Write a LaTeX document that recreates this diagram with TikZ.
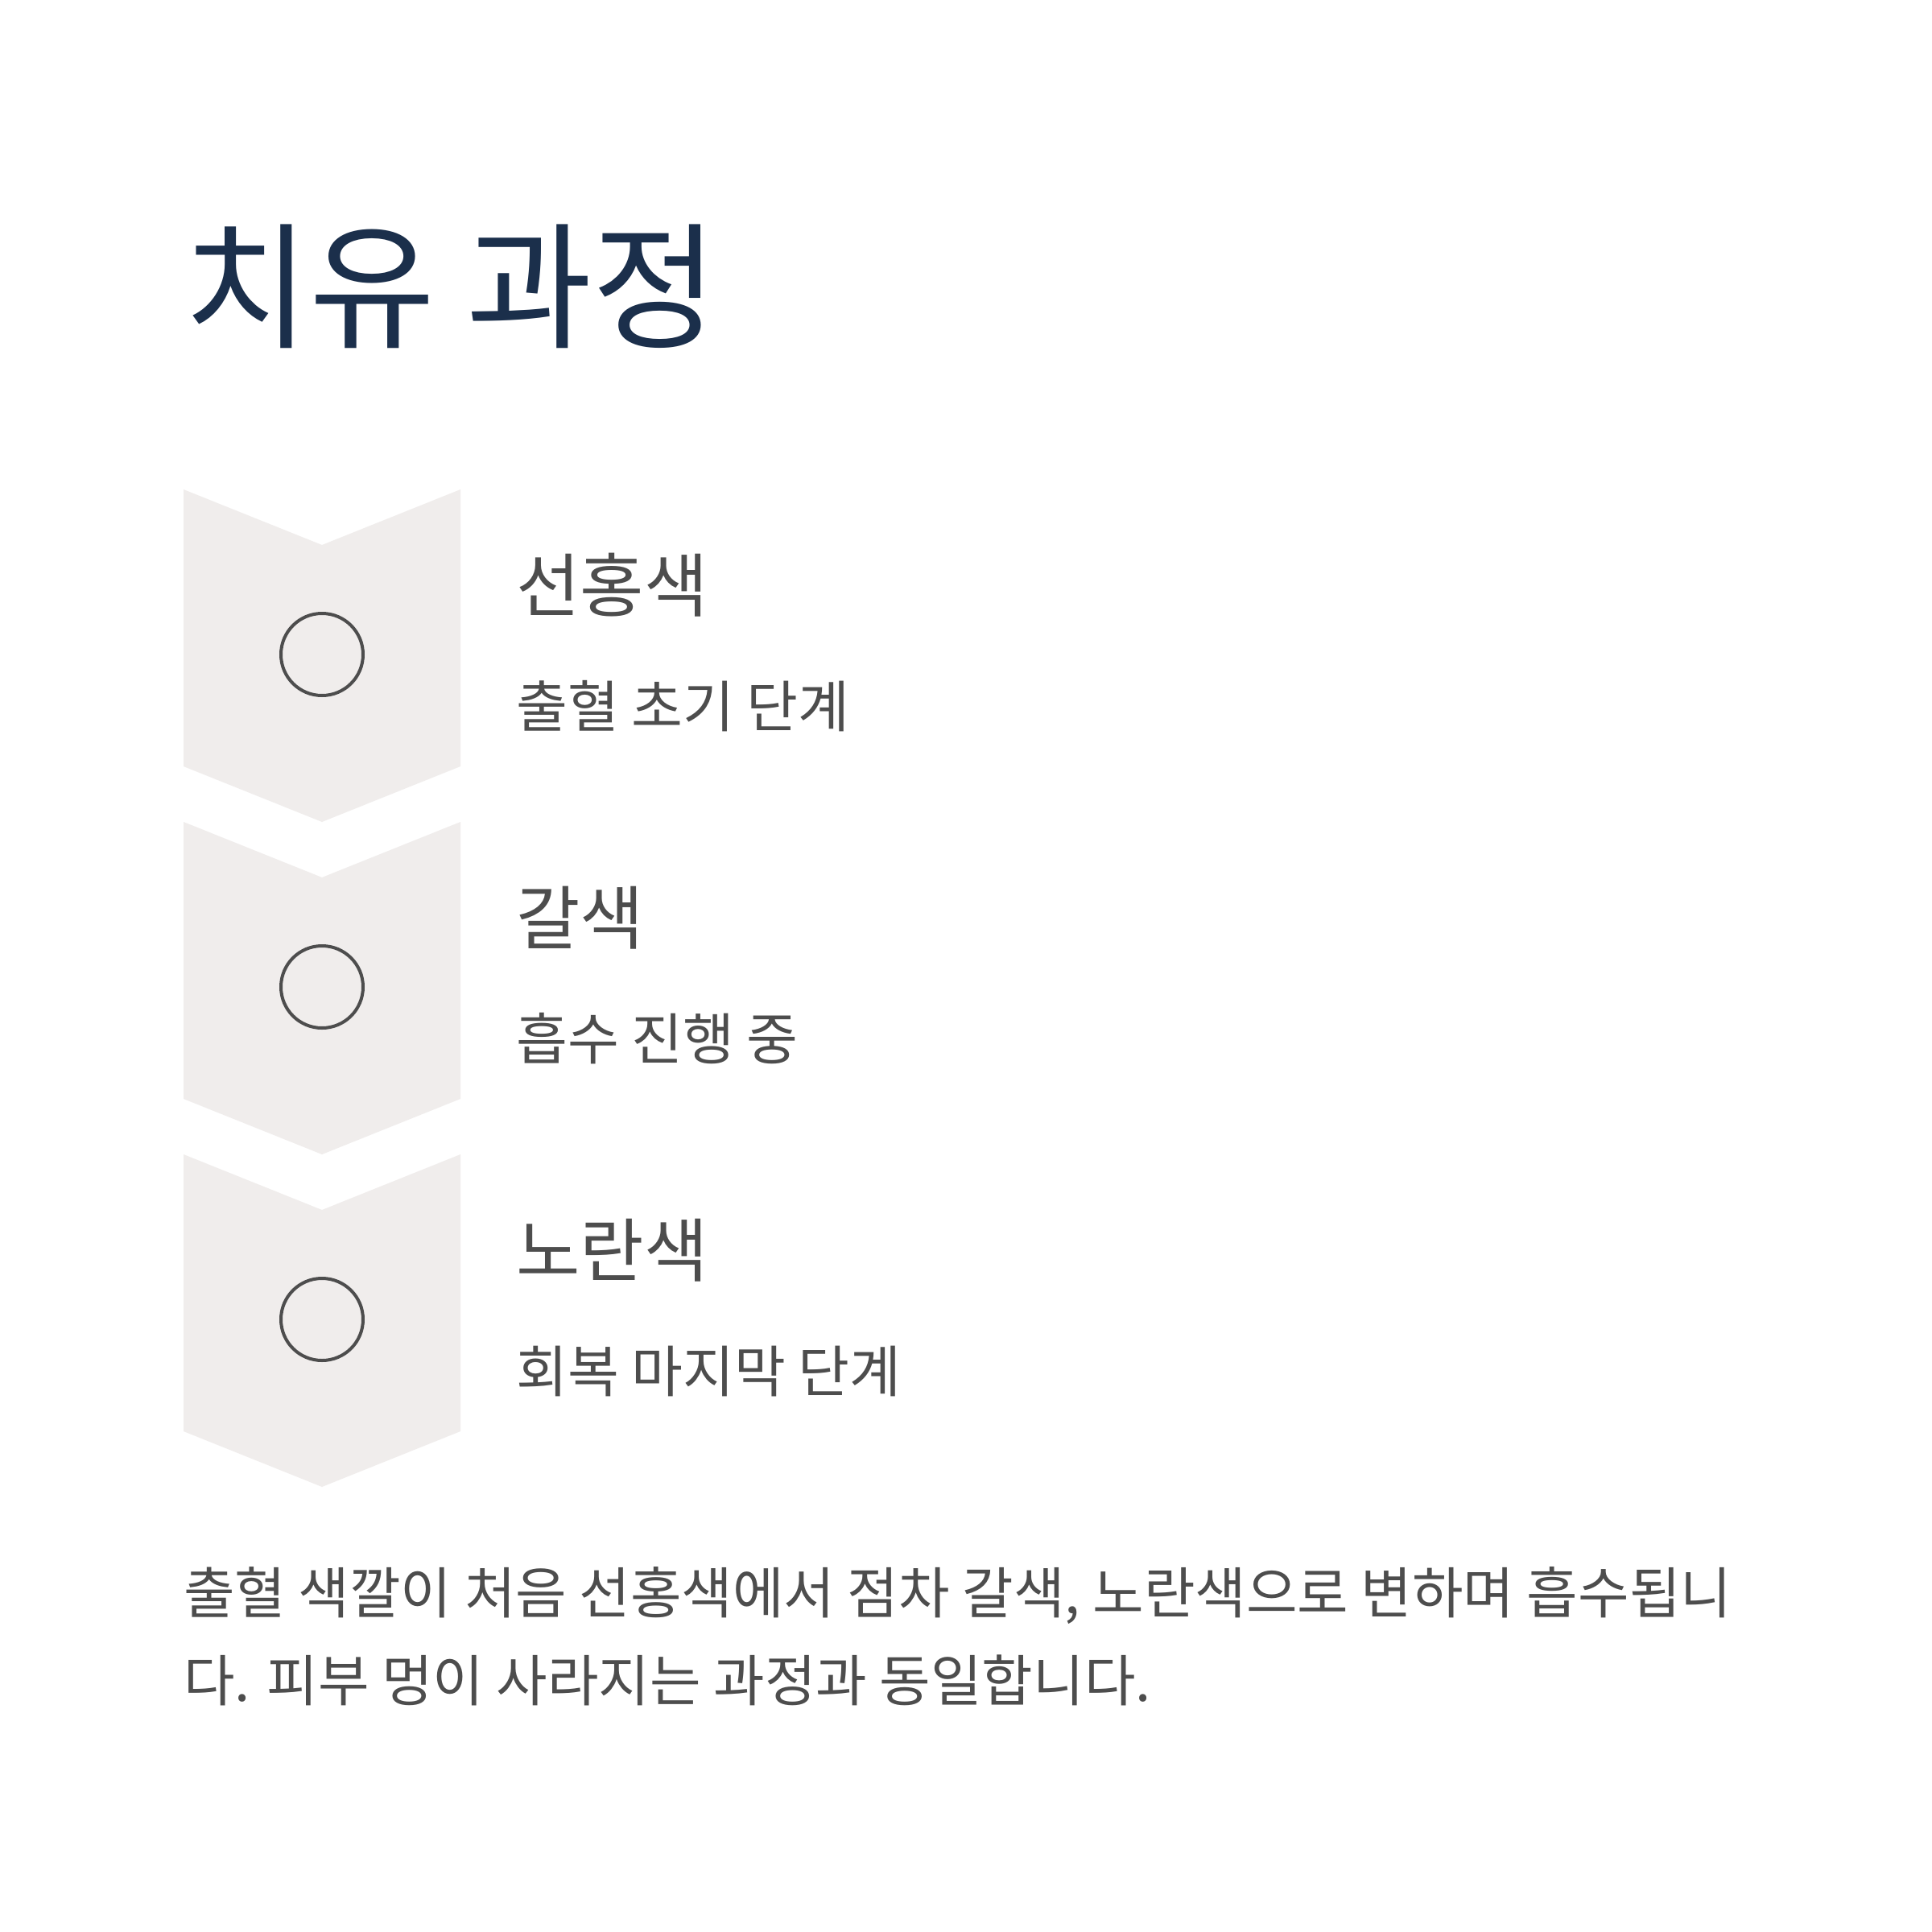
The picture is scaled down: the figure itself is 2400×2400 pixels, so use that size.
\documentclass[tikz,border=0pt]{standalone}
\usepackage{fontspec}
\setmainfont{Noto Sans CJK KR}
\definecolor{titlec}{HTML}{1B2F4B}
\definecolor{textc}{HTML}{4D4D4D}
\definecolor{chev}{HTML}{F0EDEC}
\tikzset{
  chevshape/.style={fill=chev, draw=none},
  dot/.style={circle, draw=textc, line width=4pt, minimum size=102pt, inner sep=0pt, fill=chev},
  titletxt/.style={anchor=base west, inner sep=0pt, text=titlec, font=\fontsize{170}{170}\selectfont},
  headtxt/.style={anchor=base west, inner sep=0pt, text=textc, font=\fontsize{86.3}{86.3}\selectfont},
  subtxt/.style={anchor=base west, inner sep=0pt, text=textc, font=\fontsize{69.4}{69.4}\selectfont},
  paratxt/.style={anchor=base west, inner sep=0pt, text=textc, font=\fontsize{69.1}{69.1}\selectfont}
}
\begin{document}
\begin{tikzpicture}[x=1pt,y=-1pt]
\useasboundingbox (0,0) rectangle (2400,2400);
\fill[white] (0,0) rectangle (2400,2400);
\node[titletxt] (title) at (228,419) {치유 과정};
\foreach \i/\h/\s in {0/선홍색/출혈 초기 단계, 1/갈색/흡수 진행 중, 2/노란색/회복 마지막 단계}{
  \pgfmathsetmacro{\t}{608+413*\i}
  \fill[chevshape] (228,\t) -- (400,\t+69) -- (572,\t) -- (572,\t+344) -- (400,\t+413) -- (228,\t+344) -- cycle;
  \node[dot] (c\i) at (400,\t+205) {};
  \node[headtxt] (h\i) at (641,\t+151) {\h};
  \node[subtxt] (s\i) at (641,\t+295) {\s};
}
\node[paratxt] (p1) at (228,2004) {출혈 색깔이 처음 선홍색에서 점차 갈색, 노란색으로 변하며 흡수됩니};
\node[paratxt] (p2) at (228,2113) {다. 피부 멍이 사라지는 과정과 동일합니다.};
\end{tikzpicture}
\end{document}
